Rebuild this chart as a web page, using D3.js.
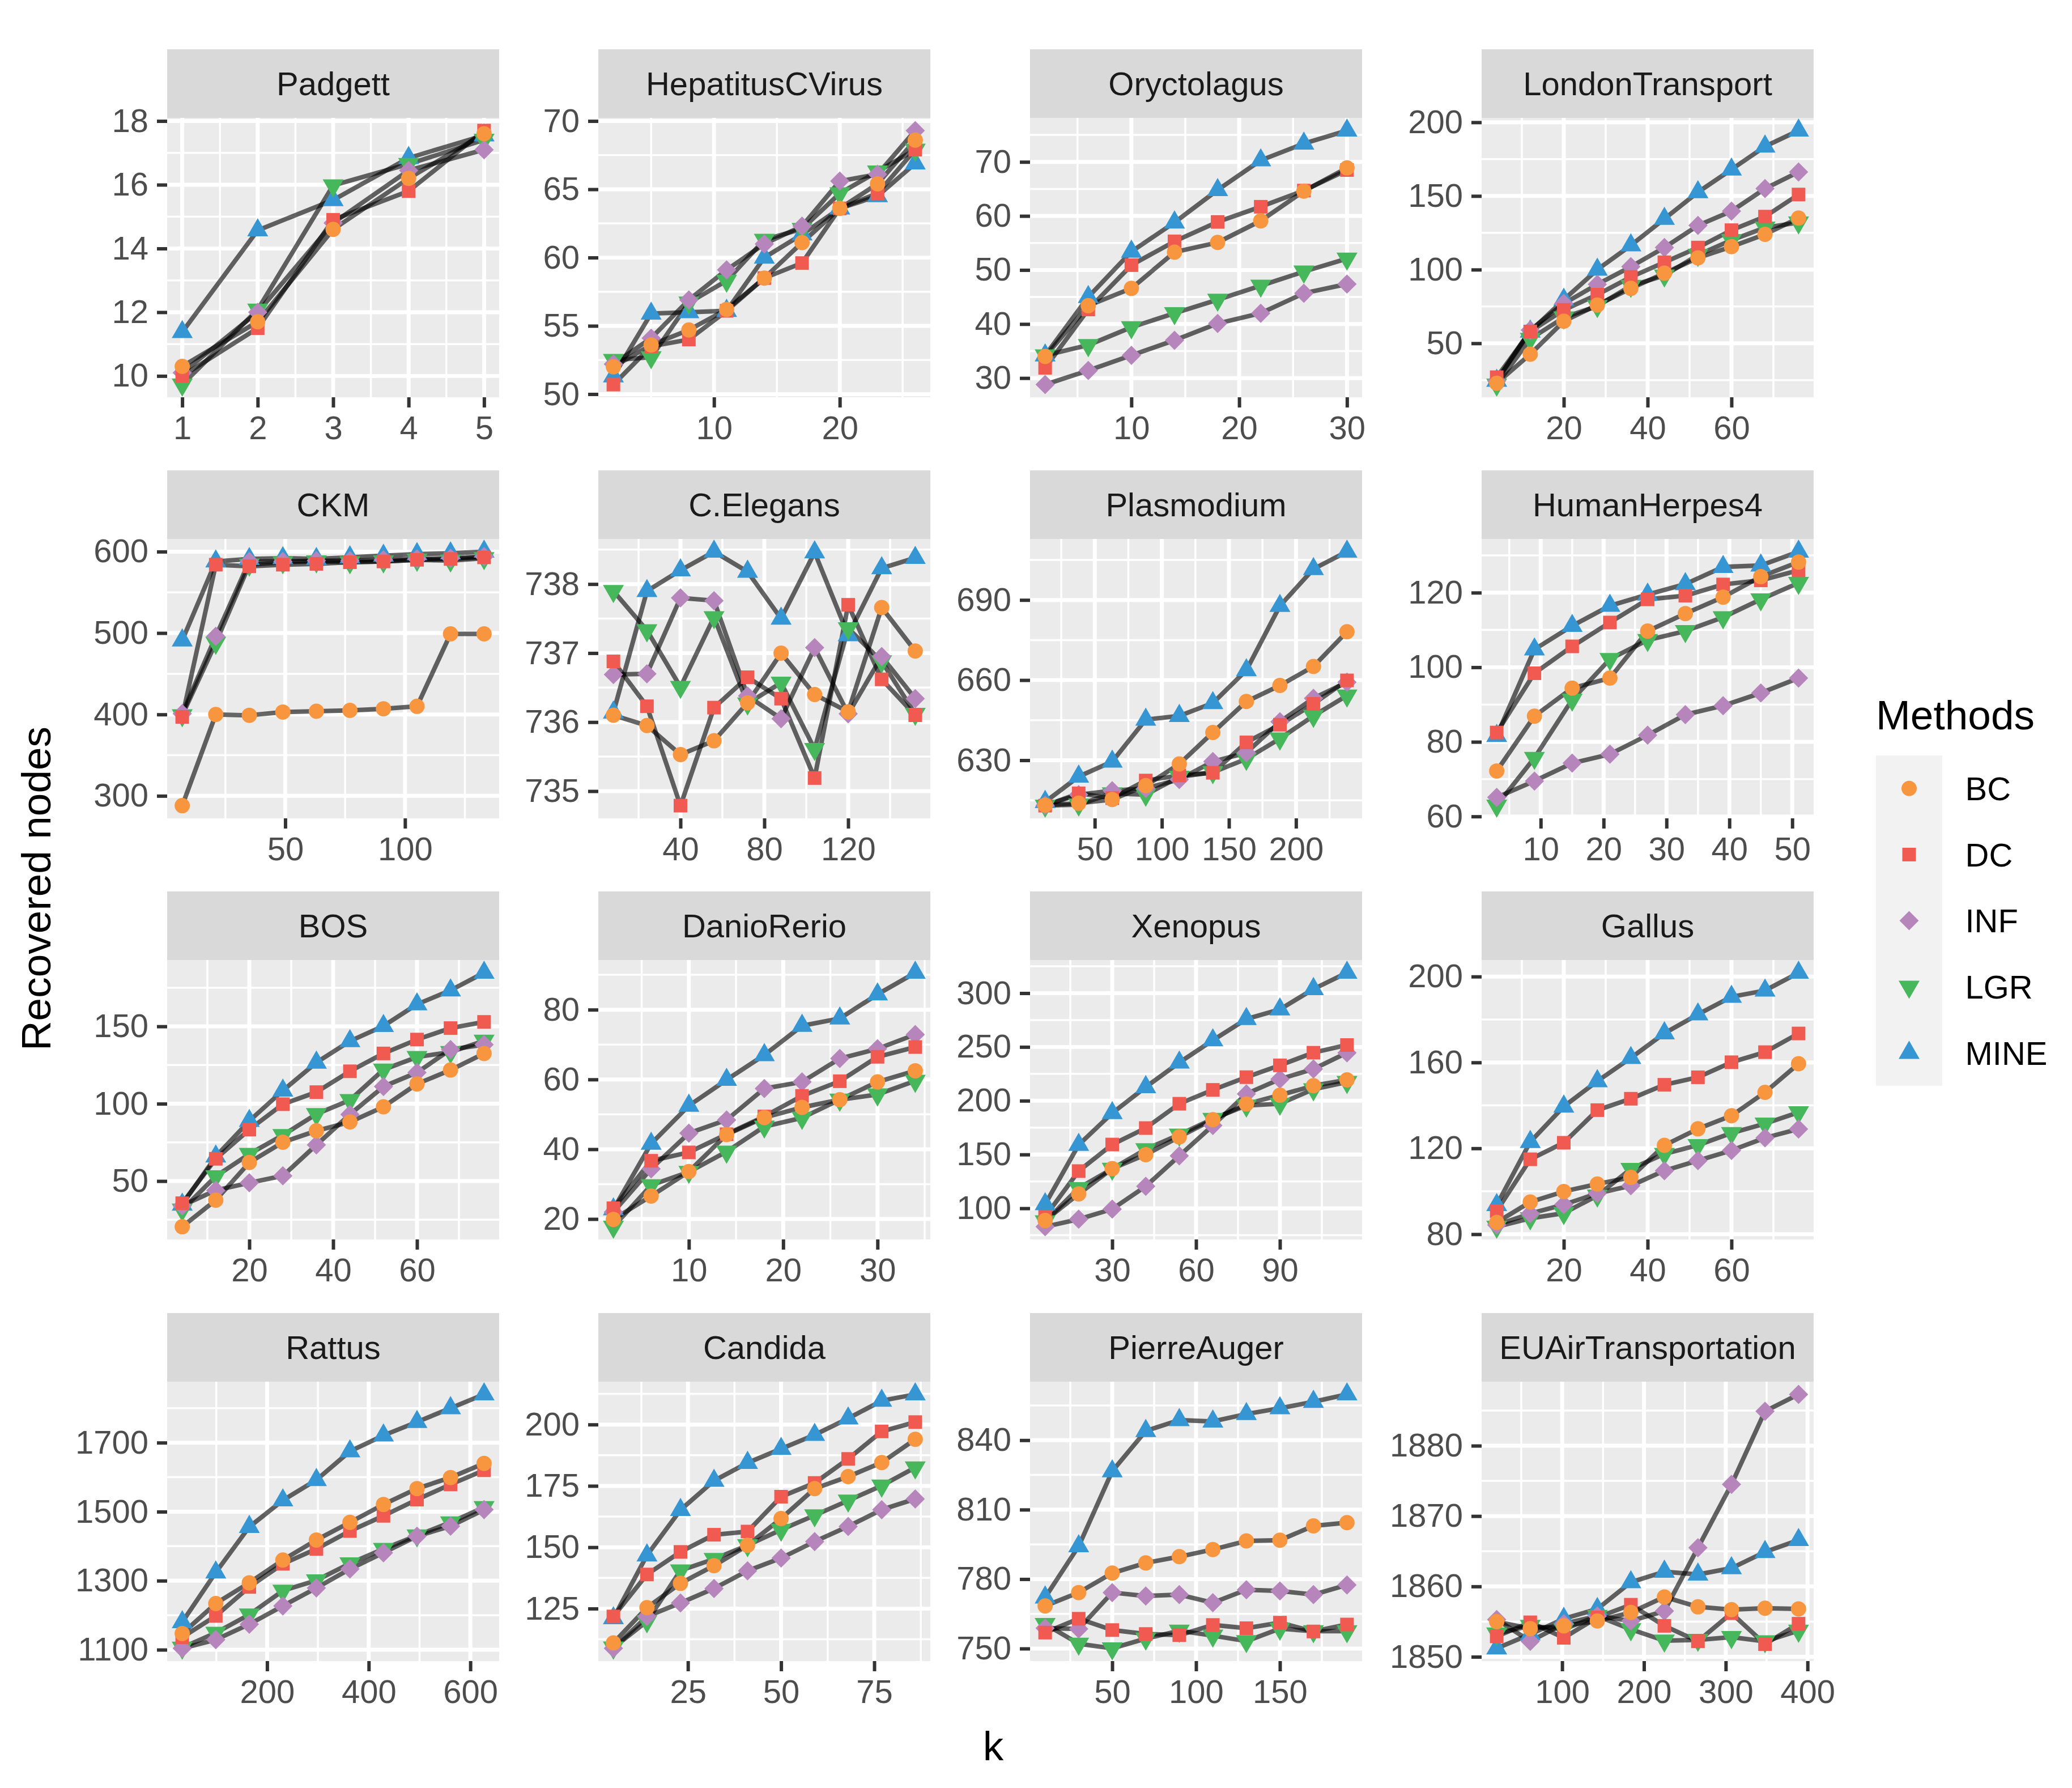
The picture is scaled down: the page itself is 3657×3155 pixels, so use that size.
<!DOCTYPE html>
<html>
<head>
<meta charset="utf-8">
<script src="https://cdn.jsdelivr.net/npm/d3@7"></script>
<style>
  body { margin: 0; background: #ffffff; }
  text { font-family: "Liberation Sans", Arial, Helvetica, sans-serif; }
</style>
</head>
<body>
<div id="chart-area"></div>
<script>
/*
*    recovered nodes per dataset, faceted
*/

// Data

var datasets = ["Padgett", "HepatitusCVirus", "Oryctolagus", "LondonTransport",
    "CKM", "C.Elegans", "Plasmodium", "HumanHerpes4",
    "BOS", "DanioRerio", "Xenopus", "Gallus",
    "Rattus", "Candida", "PierreAuger", "EUAirTransportation"];

var methods = ["BC", "DC", "INF", "LGR", "MINE"];

var kValues = [
    [1, 2, 3, 4, 5],
    [2, 5, 8, 11, 14, 17, 20, 23, 26],
    [2, 6, 10, 14, 18, 22, 26, 30],
    [4, 12, 20, 28, 36, 44, 52, 60, 68, 76],
    [7, 21, 35, 49, 63, 77, 91, 105, 119, 133],
    [8, 24, 40, 56, 72, 88, 104, 120, 136, 152],
    [13, 38, 63, 88, 113, 138, 163, 188, 213, 238],
    [3, 9, 15, 21, 27, 33, 39, 45, 51],
    [4, 12, 20, 28, 36, 44, 52, 60, 68, 76],
    [2, 6, 10, 14, 18, 22, 26, 30, 34],
    [6, 18, 30, 42, 54, 66, 78, 90, 102, 114],
    [4, 12, 20, 28, 36, 44, 52, 60, 68, 76],
    [33, 99, 165, 231, 297, 363, 429, 495, 561, 627],
    [5, 14, 23, 32, 41, 50, 59, 68, 77, 86],
    [10, 30, 50, 70, 90, 110, 130, 150, 170, 190],
    [20, 61, 102, 143, 184, 225, 266, 307, 348, 389]
];

var bcValues = [
    [10.3, 11.7, 14.6, 16.2, 17.6],
    [52.0, 53.6, 54.7, 56.2, 58.5, 61.1, 63.6, 65.4, 68.6],
    [34.0, 43.4, 46.6, 53.3, 55.1, 59.1, 64.6, 68.9],
    [22.9, 42.6, 65.0, 76.0, 87.3, 97.6, 108.0, 115.6, 124.0, 135.0],
    [288, 400, 399, 403, 404, 405, 407, 410, 499, 499],
    [736.10, 735.95, 735.53, 735.73, 736.28, 737.00, 736.40, 736.15, 737.66, 737.03],
    [613.2, 613.9, 615.3, 620.5, 628.6, 640.4, 652.0, 658.0, 665.1, 678.1],
    [72.2, 86.9, 94.4, 97.1, 109.7, 114.4, 118.8, 124.3, 128.2],
    [20.5, 37.7, 62.0, 75.1, 82.5, 88.2, 98.0, 112.8, 121.8, 132.5],
    [19.9, 26.6, 33.6, 44.2, 49.1, 52.0, 54.2, 59.3, 62.5],
    [88.7, 113.4, 136.9, 149.9, 166.4, 182.4, 197.0, 205.2, 214.0, 219.4],
    [85.5, 95.0, 99.9, 103.4, 106.5, 121.4, 129.1, 135.2, 146.1, 159.4],
    [1147, 1234, 1294, 1360, 1418, 1469, 1521, 1567, 1599, 1640],
    [111.0, 125.4, 135.3, 142.5, 150.8, 161.7, 173.9, 178.8, 184.5, 194.0],
    [768.4, 774.2, 782.6, 787.0, 789.7, 792.8, 796.5, 796.8, 803.0, 804.4],
    [1855.0, 1854.0, 1854.4, 1855.1, 1856.3, 1858.5, 1857.1, 1856.7, 1856.9, 1856.8]
];

var dcValues = [
    [10.0, 11.5, 14.9, 15.8, 17.7],
    [50.7, 53.5, 54.0, 56.1, 58.5, 59.6, 63.6, 64.7, 67.9],
    [31.9, 42.7, 50.9, 55.3, 58.9, 61.7, 64.7, 68.5],
    [27.0, 58.0, 72.7, 83.0, 95.0, 105.0, 115.0, 126.8, 136.0, 151.0],
    [397, 584, 582, 584, 585, 587, 588, 590, 591, 593],
    [736.88, 736.23, 734.79, 736.21, 736.65, 736.34, 735.19, 737.70, 736.62, 736.10],
    [613.0, 617.6, 615.8, 622.4, 624.3, 625.3, 636.7, 643.3, 651.1, 659.9],
    [82.5, 98.4, 105.6, 112.0, 118.2, 119.2, 122.2, 123.3, 126.0],
    [35.7, 64.4, 83.3, 99.7, 107.5, 121.0, 132.5, 141.5, 148.9, 152.9],
    [23.1, 36.7, 39.1, 44.3, 49.4, 55.3, 59.5, 66.5, 69.3],
    [92.2, 134.6, 159.3, 174.6, 197.2, 210.1, 221.9, 232.9, 244.7, 251.8],
    [90.8, 114.9, 122.6, 137.8, 143.1, 149.6, 153.1, 160.1, 164.8, 173.5],
    [1136, 1198, 1282, 1349, 1392, 1444, 1488, 1535, 1579, 1620],
    [121.8, 138.9, 148.1, 155.1, 156.4, 170.6, 176.2, 186.0, 197.2, 201.0],
    [756.9, 762.9, 758.0, 756.3, 755.8, 760.2, 758.8, 761.2, 757.4, 760.4],
    [1852.9, 1854.9, 1852.7, 1855.6, 1857.4, 1854.4, 1852.2, 1856.2, 1851.8, 1854.7]
];

var infValues = [
    [10.1, 12.0, 14.8, 16.45, 17.1],
    [52.2, 54.1, 56.9, 59.1, 61.0, 62.3, 65.6, 66.1, 69.3],
    [28.8, 31.4, 34.2, 37.0, 40.1, 42.0, 45.7, 47.4],
    [24.6, 59.0, 77.0, 90.0, 102.0, 115.0, 130.0, 139.7, 155.0, 166.3],
    [401, 496, 588, 588, 589, 589, 590, 591, 592, 594],
    [736.69, 736.70, 737.80, 737.76, 736.38, 736.05, 737.08, 736.12, 736.95, 736.34],
    [613.1, 617.1, 618.6, 619.5, 622.8, 629.5, 632.8, 644.4, 653.2, 659.2],
    [65.1, 69.5, 74.3, 76.7, 81.8, 87.3, 89.7, 93.1, 97.1],
    [34.1, 44.0, 48.9, 53.4, 73.4, 93.1, 111.1, 120.2, 135.0, 138.2],
    [22.0, 34.4, 44.6, 48.4, 57.4, 59.3, 66.0, 68.8, 72.9],
    [82.9, 89.9, 99.3, 120.5, 148.8, 177.0, 206.4, 220.1, 229.5, 244.6],
    [84.3, 89.6, 93.8, 99.0, 102.6, 109.6, 114.3, 119.0, 124.9, 129.0],
    [1104, 1129, 1174, 1227, 1279, 1334, 1381, 1429, 1458, 1506],
    [108.8, 121.8, 127.3, 133.2, 140.4, 145.6, 152.3, 158.5, 165.3, 169.7],
    [758.8, 758.5, 774.2, 772.7, 773.3, 769.8, 775.4, 774.9, 773.3, 777.5],
    [1855.3, 1852.2, 1854.7, 1855.8, 1855.1, 1856.5, 1865.5, 1874.5, 1884.9, 1887.3]
];

var lgrValues = [
    [9.73, 12.08, 15.98, 16.65, 17.41],
    [52.5, 52.7, 56.7, 58.3, 61.3, 62.1, 64.7, 66.3, 67.9],
    [34.2, 36.1, 39.4, 42.0, 44.5, 47.1, 49.7, 52.1],
    [22.0, 53.0, 67.5, 75.3, 89.0, 96.0, 110.0, 120.0, 128.5, 132.0],
    [399, 488, 584, 587, 588, 587, 588, 590, 589, 592],
    [737.90, 737.33, 736.51, 737.52, 736.27, 736.57, 735.61, 737.36, 736.88, 736.12],
    [613.0, 613.4, 617.6, 617.1, 623.8, 625.5, 630.5, 638.1, 646.6, 654.2],
    [62.9, 75.7, 91.3, 102.2, 107.3, 109.7, 113.4, 118.2, 122.6],
    [31.5, 53.1, 67.5, 79.7, 93.3, 102.3, 122.0, 130.2, 133.4, 140.7],
    [17.8, 29.7, 33.5, 39.3, 46.5, 49.0, 54.2, 55.7, 59.6],
    [87.8, 118.8, 136.7, 154.9, 168.5, 183.1, 195.5, 197.2, 210.6, 217.4],
    [83.5, 87.4, 89.8, 98.0, 110.4, 117.4, 121.5, 127.1, 131.5, 136.8],
    [1106, 1149, 1202, 1271, 1301, 1350, 1392, 1431, 1469, 1513],
    [109.1, 119.8, 140.5, 145.2, 150.8, 157.1, 163.0, 169.0, 175.1, 182.5],
    [760.6, 752.1, 750.1, 754.3, 757.7, 755.6, 753.2, 758.6, 757.5, 757.5],
    [1853.3, 1854.4, 1853.9, 1855.8, 1853.9, 1852.3, 1852.4, 1852.8, 1852.2, 1853.7]
];

var mineValues = [
    [11.38, 14.57, 15.52, 16.84, 17.55],
    [51.3, 55.9, 56.0, 56.1, 60.0, 61.7, 63.6, 64.5, 66.9],
    [34.2, 45.0, 53.4, 58.8, 64.8, 70.3, 73.4, 75.8],
    [24.6, 58.0, 79.6, 100.0, 116.5, 134.5, 152.6, 168.0, 183.6, 194.4],
    [491, 588, 591, 592, 591, 593, 595, 597, 598, 600],
    [736.14, 737.90, 738.20, 738.47, 738.18, 737.50, 738.46, 737.26, 738.23, 738.38],
    [614.4, 623.9, 629.5, 645.2, 646.6, 651.4, 663.7, 687.8, 701.6, 708.1],
    [81.6, 104.8, 111.1, 116.5, 119.5, 122.3, 126.9, 127.3, 131.0],
    [34.8, 65.9, 88.9, 108.5, 126.6, 140.5, 150.3, 164.3, 173.3, 184.7],
    [22.8, 41.6, 52.5, 59.9, 67.0, 75.4, 77.5, 84.4, 90.6],
    [103.8, 159.0, 188.5, 212.7, 235.5, 256.2, 276.0, 284.9, 303.8, 319.0],
    [93.6, 123.0, 139.5, 151.3, 162.1, 173.6, 182.4, 190.6, 193.5, 201.8],
    [1180, 1324, 1456, 1533, 1592, 1675, 1721, 1760, 1800, 1840],
    [121.1, 146.7, 165.2, 177.1, 184.4, 190.1, 195.8, 202.5, 209.7, 212.3],
    [772.1, 794.2, 826.6, 844.0, 848.7, 848.1, 851.3, 853.8, 856.6, 859.8],
    [1851.2, 1853.2, 1855.4, 1856.8, 1860.6, 1862.1, 1861.7, 1862.6, 1864.9, 1866.6]
];

var yTicks = [
    [10, 12, 14, 16, 18],
    [50, 55, 60, 65, 70],
    [30, 40, 50, 60, 70],
    [50, 100, 150, 200],
    [300, 400, 500, 600],
    [735, 736, 737, 738],
    [630, 660, 690],
    [60, 80, 100, 120],
    [50, 100, 150],
    [20, 40, 60, 80],
    [100, 150, 200, 250, 300],
    [80, 120, 160, 200],
    [1100, 1300, 1500, 1700],
    [125, 150, 175, 200],
    [750, 780, 810, 840],
    [1850, 1860, 1870, 1880]
];

var xTicks = [
    [1, 2, 3, 4, 5],
    [10, 20],
    [10, 20, 30],
    [20, 40, 60],
    [50, 100],
    [40, 80, 120],
    [50, 100, 150, 200],
    [10, 20, 30, 40, 50],
    [20, 40, 60],
    [10, 20, 30],
    [30, 60, 90],
    [20, 40, 60],
    [200, 400, 600],
    [25, 50, 75],
    [50, 100, 150],
    [100, 200, 300, 400]
];

var seriesValues = [bcValues, dcValues, infValues, lgrValues, mineValues];

//  Layout

var svgWidth = 3657;
var svgHeight = 3155;
var colLeft = [295, 1056, 1818, 2615];
var rowTop = [87, 830, 1573, 2317];
var panelW = 586;
var stripH = 121;
var plotH = 493;

var tickFont = 58;
var titleFont = 73;

var color = d3.scaleOrdinal()
    .domain(methods)
    .range(["#F8963F", "#F05A50", "#B685BC", "#47B75B", "#3596D3"]);

// R-like plotting symbols, centred like pch 16 / 15 / 18 / 25 / 17
var shapePath = {
    BC: "M13.5,0A13.5,13.5 0 1 1 -13.5,0A13.5,13.5 0 1 1 13.5,0Z",
    DC: "M-12,-12H12V12H-12Z",
    INF: "M0,-17L17,0L0,17L-17,0Z",
    LGR: "M0,21.4L18.5,-10.7L-18.5,-10.7Z",
    MINE: "M0,-21.4L18.5,10.7L-18.5,10.7Z"
};

function expand(ext) {
    var pad = (ext[1] - ext[0]) * 0.05;
    return [ext[0] - pad, ext[1] + pad];
}

function minorBreaks(majors, domain) {
    var step = majors[1] - majors[0];
    var out = [];
    for (var v = majors[0] - step / 2; v <= majors[majors.length - 1] + step / 2 + 1e-9; v += step) {
        if (v >= domain[0] && v <= domain[1]) out.push(v);
    }
    return out;
}

//  SVG canvas

var svg = d3.select("#chart-area").append("svg")
    .attr("width", svgWidth)
    .attr("height", svgHeight)
    .style("display", "block");

svg.append("rect")
    .attr("width", svgWidth)
    .attr("height", svgHeight)
    .attr("fill", "white");

var defs = svg.append("defs");

datasets.forEach((name, i) => {

    var left = colLeft[i % 4];
    var top = rowTop[Math.floor(i / 4)] + stripH;
    var bottom = top + plotH;

    var allY = [];
    seriesValues.forEach((s) => { allY = allY.concat(s[i]); });

    var x = d3.scaleLinear()
        .domain(expand(d3.extent(kValues[i])))
        .range([left, left + panelW]);

    var y = d3.scaleLinear()
        .domain(expand(d3.extent(allY)))
        .range([bottom, top]);

    var g = svg.append("g").attr("class", "panel");

    // panel background and grid

    g.append("rect")
        .attr("x", left)
        .attr("y", top)
        .attr("width", panelW)
        .attr("height", plotH)
        .attr("fill", "#EBEBEB");

    g.selectAll(".yminor")
        .data(minorBreaks(yTicks[i], y.domain()))
        .enter().append("line")
        .attr("x1", left).attr("x2", left + panelW)
        .attr("y1", (d) => y(d)).attr("y2", (d) => y(d))
        .attr("stroke", "white").attr("stroke-width", 3.5);

    g.selectAll(".xminor")
        .data(minorBreaks(xTicks[i], x.domain()))
        .enter().append("line")
        .attr("x1", (d) => x(d)).attr("x2", (d) => x(d))
        .attr("y1", top).attr("y2", bottom)
        .attr("stroke", "white").attr("stroke-width", 3.5);

    g.selectAll(".ymajor")
        .data(yTicks[i])
        .enter().append("line")
        .attr("x1", left).attr("x2", left + panelW)
        .attr("y1", (d) => y(d)).attr("y2", (d) => y(d))
        .attr("stroke", "white").attr("stroke-width", 7);

    g.selectAll(".xmajor")
        .data(xTicks[i])
        .enter().append("line")
        .attr("x1", (d) => x(d)).attr("x2", (d) => x(d))
        .attr("y1", top).attr("y2", bottom)
        .attr("stroke", "white").attr("stroke-width", 7);

    // strip

    g.append("rect")
        .attr("x", left)
        .attr("y", top - stripH)
        .attr("width", panelW)
        .attr("height", stripH)
        .attr("fill", "#D9D9D9");

    g.append("text")
        .attr("x", left + panelW / 2)
        .attr("y", top - stripH / 2)
        .attr("dy", "0.36em")
        .attr("text-anchor", "middle")
        .attr("font-size", tickFont)
        .attr("fill", "#1A1A1A")
        .text(name);

    // data, clipped to the panel

    defs.append("clipPath")
        .attr("id", "clip" + i)
        .append("rect")
        .attr("x", left).attr("y", top)
        .attr("width", panelW).attr("height", plotH);

    var marks = g.append("g").attr("clip-path", "url(#clip" + i + ")");

    var line = d3.line()
        .x((d) => x(d[0]))
        .y((d) => y(d[1]));

    methods.forEach((m, j) => {
        marks.append("path")
            .datum(d3.zip(kValues[i], seriesValues[j][i]))
            .attr("d", line)
            .attr("fill", "none")
            .attr("stroke", "black")
            .attr("stroke-opacity", 0.6)
            .attr("stroke-width", 8)
            .attr("stroke-linejoin", "round");
    });

    // points: last method first so BC ends on top
    methods.slice().reverse().forEach((m) => {
        var j = methods.indexOf(m);
        marks.selectAll(".pt-" + m)
            .data(d3.zip(kValues[i], seriesValues[j][i]))
            .enter().append("path")
            .attr("d", shapePath[m])
            .attr("transform", (d) => "translate(" + x(d[0]) + "," + y(d[1]) + ")")
            .attr("fill", color(m));
    });

    // axes

    var yAxis = d3.axisLeft(y)
        .tickValues(yTicks[i])
        .tickFormat((d) => String(d))
        .tickSize(18)
        .tickPadding(15);

    var xAxis = d3.axisBottom(x)
        .tickValues(xTicks[i])
        .tickFormat((d) => String(d))
        .tickSize(18)
        .tickPadding(15);

    [g.append("g").attr("transform", "translate(" + left + ",0)").call(yAxis),
     g.append("g").attr("transform", "translate(0," + bottom + ")").call(xAxis)]
        .forEach((ax) => {
            ax.select(".domain").remove();
            ax.selectAll(".tick line").attr("stroke", "#333333").attr("stroke-width", 6);
            ax.selectAll(".tick text")
                .attr("fill", "#4D4D4D")
                .attr("font-size", tickFont)
                .attr("font-family", "Liberation Sans, Arial, Helvetica, sans-serif");
        });
});

// axis titles

svg.append("text")
    .attr("x", 1753)
    .attr("y", 3106)
    .attr("text-anchor", "middle")
    .attr("font-size", titleFont)
    .attr("fill", "black")
    .text("k");

svg.append("text")
    .attr("transform", "translate(89,1568) rotate(-90)")
    .attr("text-anchor", "middle")
    .attr("font-size", titleFont)
    .attr("fill", "black")
    .text("Recovered nodes");

// legend

var legendX = 3311;
var legendTop = 1333;
var keySize = 116.6;

svg.append("text")
    .attr("x", legendX)
    .attr("y", 1287)
    .attr("font-size", titleFont)
    .attr("fill", "black")
    .text("Methods");

svg.append("rect")
    .attr("x", legendX)
    .attr("y", legendTop)
    .attr("width", 117)
    .attr("height", keySize * methods.length)
    .attr("fill", "#F2F2F2");

var keys = svg.selectAll(".key")
    .data(methods)
    .enter().append("g")
    .attr("transform", (d, i) => "translate(" + (legendX + 58.5) + "," + (legendTop + keySize * (i + 0.5)) + ")");

keys.append("path")
    .attr("d", (d) => shapePath[d])
    .attr("fill", (d) => color(d));

keys.append("text")
    .attr("x", 99)
    .attr("dy", "0.36em")
    .attr("font-size", tickFont)
    .attr("fill", "black")
    .text((d) => d);

</script>
</body>
</html>
